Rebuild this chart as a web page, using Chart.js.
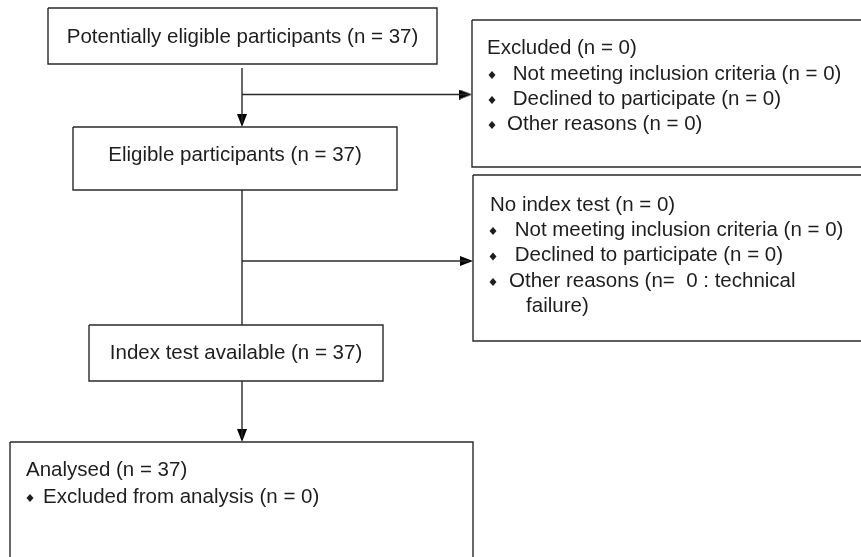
<!DOCTYPE html>
<html>
<head>
<meta charset="utf-8">
<script src="https://cdn.jsdelivr.net/npm/chart.js@4.4.1/dist/chart.umd.min.js"></script>
<style>
  html, body { margin: 0; padding: 0; background: #fff; }
  canvas { display: block; }
</style>
</head>
<body>
<canvas id="flow" width="861" height="557"></canvas>
<script>
// flow steps (main column) and their counts
const stepLabels = ['Potentially eligible participants', 'Eligible participants', 'Index test available'];
const stepCounts = [37, 37, 37];

// side boxes: title + bullet reasons
const excludedTitle = 'Excluded (n = 0)';
const excludedItems = [' Not meeting inclusion criteria (n = 0)', ' Declined to participate (n = 0)', 'Other reasons (n = 0)'];
const noIndexTitle = 'No index test (n = 0)';
const noIndexItems = [' Not meeting inclusion criteria (n = 0)', ' Declined to participate (n = 0)', 'Other reasons (n=  0 : technical\n   failure)'];
const analysedTitle = 'Analysed (n = 37)';
const analysedItems = ['Excluded from analysis (n = 0)'];

// layout of the boxes, in page units (x0, y0, x1, y1)
const mainBoxes = [[48, 8, 437, 64], [73, 127, 397, 190], [89, 325, 383, 381]];
const sideBoxes = [[472, 20, 870, 167], [473, 175, 870, 341]];
const finalBox = [10, 442, 473, 575];
const trunkX = 242;

const LINE = '#2a2a2a';
const TEXT = '#1e1e1e';
const FONT = '20.5px "Liberation Sans", Arial, sans-serif';

function rect(b) {
    return [
        { x: b[0], y: b[1] }, { x: b[2], y: b[1] }, { x: b[2], y: b[3] },
        { x: b[0], y: b[3] }, { x: b[0], y: b[1] }
    ];
}

function lineSet(pts) {
    return { data: pts, showLine: true, borderColor: LINE, borderWidth: 1.4, pointRadius: 0, fill: false, clip: false };
}

// narrow arrow head (10 wide, 13 tall, pointing up) used as point style
const head = document.createElement('canvas');
head.width = 10; head.height = 13;
(function () {
    const c = head.getContext('2d');
    c.fillStyle = '#000';
    c.beginPath();
    c.moveTo(5, 0);
    c.lineTo(10, 13);
    c.lineTo(0, 13);
    c.closePath();
    c.fill();
})();

// connectors, derived from the box edges
const branchY = [(sideBoxes[0][1] + sideBoxes[0][3]) / 2 + 1, (sideBoxes[1][1] + sideBoxes[1][3]) / 2 + 3];
const segments = [
    [{ x: trunkX, y: mainBoxes[0][3] + 4 }, { x: trunkX, y: mainBoxes[1][1] - 4 }],
    [{ x: trunkX, y: branchY[0] }, { x: sideBoxes[0][0] - 4, y: branchY[0] }],
    [{ x: trunkX, y: mainBoxes[1][3] }, { x: trunkX, y: mainBoxes[2][1] }],
    [{ x: trunkX, y: branchY[1] }, { x: sideBoxes[1][0] - 4, y: branchY[1] }],
    [{ x: trunkX, y: mainBoxes[2][3] }, { x: trunkX, y: finalBox[1] - 4 }]
];

// arrow heads: the tip sits on the box edge (half length 6.5)
const arrowPts = [
    { x: trunkX, y: mainBoxes[1][1] - 6.5 },
    { x: sideBoxes[0][0] - 6.5, y: branchY[0] },
    { x: sideBoxes[1][0] - 6.5, y: branchY[1] },
    { x: trunkX, y: finalBox[1] - 6.5 }
];
const arrowRot = [180, 90, 90, 180];

const datasets = [];
mainBoxes.concat(sideBoxes, [finalBox]).forEach(b => datasets.push(lineSet(rect(b))));
segments.forEach(s => datasets.push(lineSet(s)));
datasets.push({
    data: arrowPts, showLine: false, pointStyle: head, pointRadius: 7,
    rotation: arrowRot, clip: false
});

// text blocks
const textBlocks = [];
stepLabels.forEach((s, i) => {
    const b = mainBoxes[i];
    textBlocks.push({ x: (b[0] + b[2]) / 2, y: [37, 155, 353][i], text: s + ' (n = ' + stepCounts[i] + ')', align: 'center' });
});
textBlocks.push({ x: 487, y: 48, text: excludedTitle });
excludedItems.forEach((t, i) => textBlocks.push({ x: 507, y: 74 + i * 25, text: t, bullet: 492 }));
textBlocks.push({ x: 490, y: 205, text: noIndexTitle });
noIndexItems.forEach((t, i) => textBlocks.push({ x: 509, y: 230 + i * 25.5, text: t, bullet: 493 }));
textBlocks.push({ x: 26, y: 470, text: analysedTitle });
analysedItems.forEach((t, i) => textBlocks.push({ x: 43, y: 497 + i * 25, text: t, bullet: 30 }));

const textPlugin = {
    id: 'flowText',
    afterDatasetsDraw(chart) {
        const ctx = chart.ctx;
        const xs = chart.scales.x, ys = chart.scales.y;
        ctx.save();
        ctx.font = FONT;
        ctx.fillStyle = TEXT;
        ctx.textBaseline = 'middle';
        textBlocks.forEach(tb => {
            ctx.textAlign = tb.align || 'left';
            tb.text.split('\n').forEach((ln, k) => {
                ctx.fillText(ln, xs.getPixelForValue(tb.x), ys.getPixelForValue(tb.y + k * 25.5));
            });
            if (tb.bullet != null) {
                const bx = xs.getPixelForValue(tb.bullet), by = ys.getPixelForValue(tb.y + 1);
                ctx.beginPath();
                ctx.moveTo(bx, by - 4);
                ctx.lineTo(bx + 3.5, by);
                ctx.lineTo(bx, by + 4);
                ctx.lineTo(bx - 3.5, by);
                ctx.closePath();
                ctx.fill();
            }
        });
        ctx.restore();
    }
};

new Chart(document.getElementById('flow'), {
    type: 'scatter',
    data: { datasets: datasets },
    options: {
        responsive: false,
        animation: false,
        layout: { padding: 0, autoPadding: false },
        plugins: { legend: { display: false }, tooltip: { enabled: false } },
        scales: {
            x: { type: 'linear', min: 0, max: 861, display: false },
            y: { type: 'linear', min: 0, max: 557, reverse: true, display: false }
        }
    },
    plugins: [textPlugin]
});
</script>
</body>
</html>
